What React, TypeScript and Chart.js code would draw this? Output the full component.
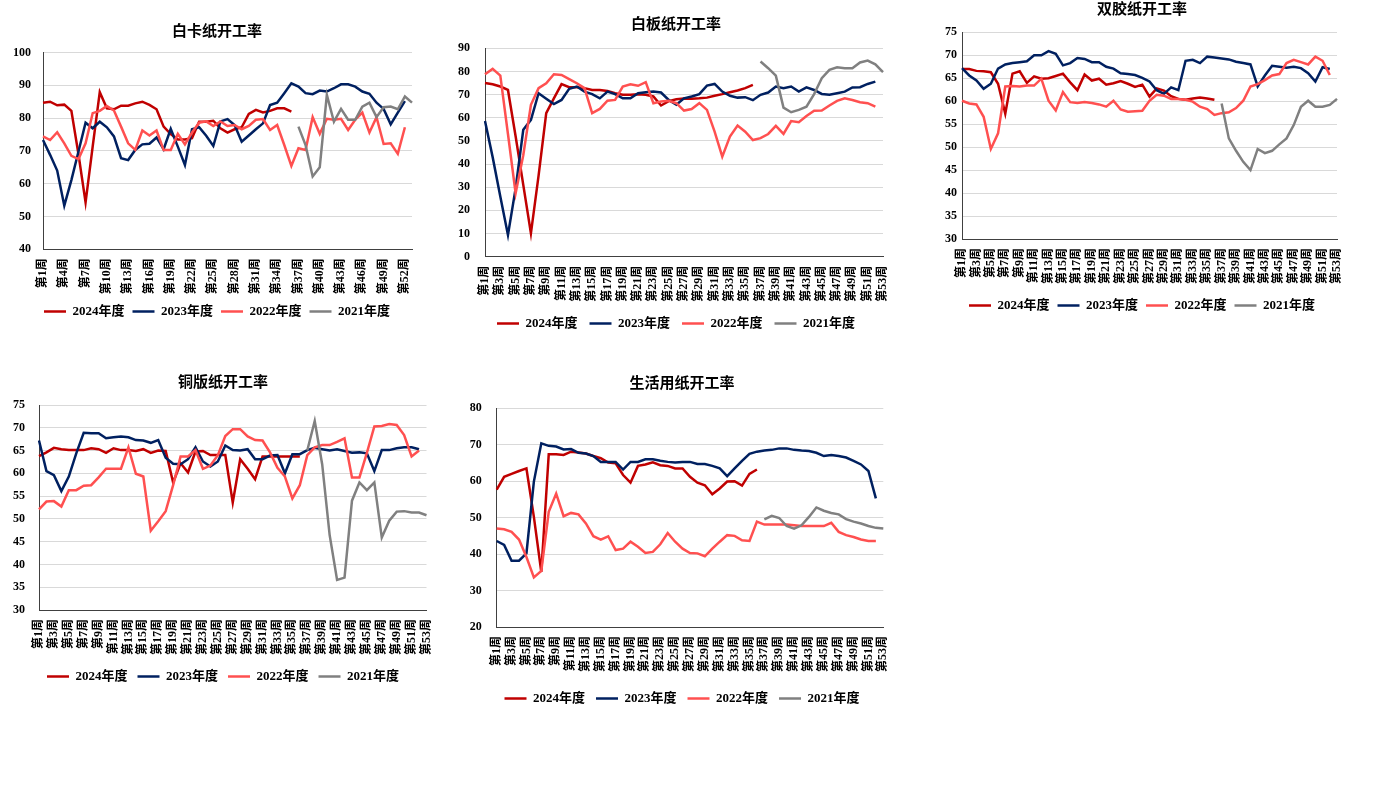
import React, { useEffect, useRef } from "react";
import { Chart, registerables } from "chart.js";

Chart.register(...registerables);

// ---------- categories / series meta ----------
const weekLabels = Array.from({ length: 53 }, (_, i) => `第${i + 1}周`);
const seriesNames = ["2024年度", "2023年度", "2022年度", "2021年度"];
const seriesColors = ["#C00000", "#002060", "#FF5050", "#808080"];
const start2021 = 37; // the 2021 series starts at week 37

// ---------- 白卡纸开工率 ----------
const baika2024 = [84.7, 85.0, 83.9, 84.1, 82.2, 69.0, 54.3, 71.3, 87.9, 83.0, 82.7, 83.8, 83.8, 84.5, 85.0, 84.0, 82.7, 77.4, 75.1, 73.5, 73.5, 73.9, 78.9, 78.9, 79.2, 76.9, 75.6, 76.6, 77.2, 81.3, 82.5, 81.7, 82.2, 83.0, 83.0, 82.0];
const baika2023 = [73.3, 68.8, 64.0, 53.3, 61.1, 69.8, 78.6, 76.9, 78.9, 77.2, 74.4, 67.8, 67.2, 70.3, 72.0, 72.2, 74.1, 70.5, 76.7, 71.3, 65.7, 76.6, 77.2, 74.6, 71.5, 79.0, 79.7, 77.9, 72.8, 74.7, 76.6, 78.4, 84.0, 84.7, 87.6, 90.6, 89.6, 87.6, 87.3, 88.4, 88.1, 89.1, 90.3, 90.3, 89.6, 88.1, 87.4, 84.7, 82.8, 78.1, 81.7, 85.2];
const baika2022 = [74.4, 73.3, 75.7, 72.3, 68.5, 67.5, 72.3, 81.5, 82.2, 83.7, 82.3, 77.4, 72.3, 70.3, 76.2, 74.7, 76.2, 70.3, 70.3, 75.2, 72.0, 75.6, 78.6, 79.0, 77.6, 79.0, 77.6, 77.9, 76.6, 77.6, 79.5, 79.7, 76.4, 77.9, 71.8, 65.4, 70.8, 70.3, 80.3, 75.2, 79.8, 79.5, 79.8, 76.4, 79.5, 81.7, 75.6, 80.3, 72.1, 72.3, 69.1, 77.2];
const baika2021 = [77.4, 71.8, 62.2, 65.0, 87.1, 78.9, 82.8, 79.5, 79.5, 83.5, 84.7, 80.3, 83.3, 83.5, 82.7, 86.6, 84.7];

// ---------- 白板纸开工率 ----------
const baiban2024 = [75.0, 74.5, 73.5, 72.0, 52.0, 31.0, 10.1, 35.0, 62.0, 68.4, 74.5, 73.2, 73.2, 72.8, 72.0, 72.0, 71.6, 70.6, 69.9, 69.9, 70.2, 69.9, 69.2, 65.3, 67.2, 68.0, 68.3, 68.2, 68.4, 68.7, 69.5, 70.2, 71.0, 71.8, 72.8, 74.2];
const baiban2023 = [58.6, 43.0, 26.0, 9.4, 29.5, 54.8, 59.1, 70.6, 68.2, 65.9, 67.7, 72.5, 73.5, 71.3, 70.2, 68.4, 71.3, 70.2, 68.4, 68.4, 70.6, 71.0, 71.3, 70.9, 67.7, 65.6, 68.4, 69.2, 70.2, 73.9, 74.6, 71.3, 69.5, 68.7, 68.9, 67.6, 69.9, 70.9, 73.5, 72.8, 73.5, 71.3, 73.1, 72.0, 70.3, 69.9, 70.6, 71.3, 73.1, 73.2, 74.6, 75.6];
const baiban2022 = [78.8, 81.1, 78.2, 53.0, 27.4, 43.8, 65.6, 72.8, 74.9, 78.8, 78.5, 76.7, 74.9, 72.8, 62.0, 63.8, 67.4, 67.7, 73.5, 74.5, 73.8, 75.4, 66.3, 67.0, 67.3, 66.3, 63.1, 63.8, 66.3, 63.4, 54.0, 43.2, 51.9, 56.6, 54.0, 50.4, 51.2, 53.0, 56.5, 53.0, 58.6, 58.1, 60.8, 63.0, 63.1, 65.3, 67.3, 68.4, 67.7, 66.7, 66.3, 64.8];
const baiban2021 = [84.3, 81.4, 78.2, 64.4, 62.4, 63.4, 64.8, 70.2, 77.1, 80.7, 81.8, 81.4, 81.4, 83.9, 84.7, 83.1, 79.7];

// ---------- 双胶纸开工率 ----------
const shuangjiao2024 = [67.0, 67.0, 66.6, 66.5, 66.3, 63.8, 57.3, 66.0, 66.5, 64.0, 65.4, 64.9, 65.0, 65.5, 66.0, 64.1, 62.4, 65.8, 64.5, 64.9, 63.6, 63.9, 64.4, 63.8, 63.1, 63.6, 61.0, 62.8, 62.3, 61.1, 60.5, 60.3, 60.6, 60.8, 60.6, 60.3];
const shuangjiao2023 = [67.2, 65.6, 64.5, 62.7, 63.8, 67.1, 68.0, 68.3, 68.5, 68.7, 70.0, 70.0, 70.9, 70.3, 67.8, 68.3, 69.4, 69.2, 68.5, 68.5, 67.5, 67.1, 66.1, 65.9, 65.7, 65.1, 64.3, 62.4, 61.6, 63.0, 62.4, 68.8, 69.0, 68.3, 69.7, 69.5, 69.3, 69.1, 68.6, 68.3, 68.0, 63.2, 65.6, 67.7, 67.5, 67.3, 67.5, 67.2, 66.1, 64.3, 67.4, 67.0];
const shuangjiao2022 = [60.1, 59.5, 59.3, 56.6, 49.6, 53.0, 63.2, 63.3, 63.2, 63.4, 63.4, 64.9, 60.1, 58.0, 62.0, 59.8, 59.6, 59.8, 59.6, 59.3, 58.8, 60.1, 58.2, 57.7, 57.8, 57.9, 60.1, 61.4, 61.2, 60.5, 60.5, 60.3, 59.9, 58.8, 58.3, 57.0, 57.4, 57.6, 58.5, 60.1, 63.2, 63.7, 64.6, 65.6, 65.9, 68.3, 69.0, 68.5, 68.0, 69.7, 68.8, 65.7];
const shuangjiao2021 = [59.5, 51.9, 49.2, 46.8, 45.0, 49.6, 48.7, 49.2, 50.6, 51.9, 54.8, 58.8, 60.1, 58.8, 58.8, 59.2, 60.5];

// ---------- 铜版纸开工率 ----------
const tongban2024 = [63.8, 64.6, 65.6, 65.3, 65.1, 65.1, 65.1, 65.5, 65.3, 64.5, 65.5, 65.1, 65.1, 64.9, 65.3, 64.5, 65.0, 64.9, 58.0, 62.2, 60.2, 64.8, 64.9, 64.0, 64.0, 64.0, 53.6, 63.1, 61.0, 58.7, 63.7, 63.7, 63.7, 63.7, 63.7, 63.7];
const tongban2023 = [67.2, 60.5, 59.6, 56.1, 59.3, 64.4, 68.9, 68.8, 68.8, 67.7, 67.9, 68.1, 67.9, 67.3, 67.2, 66.7, 67.3, 63.4, 62.1, 62.0, 63.1, 65.7, 62.6, 61.5, 62.6, 66.1, 65.1, 65.0, 65.3, 63.1, 63.1, 63.9, 64.0, 60.0, 64.2, 64.2, 65.1, 65.6, 65.3, 65.0, 65.3, 64.9, 64.5, 64.6, 64.4, 60.5, 65.1, 65.1, 65.5, 65.7, 65.7, 65.3];
const tongban2022 = [52.1, 53.8, 53.9, 52.7, 56.3, 56.3, 57.3, 57.4, 59.1, 61.0, 61.0, 61.0, 65.7, 59.9, 59.3, 47.4, 49.5, 51.7, 57.4, 63.7, 63.7, 65.1, 61.0, 61.7, 64.0, 68.2, 69.7, 69.7, 68.1, 67.3, 67.2, 64.6, 61.2, 59.3, 54.5, 57.4, 64.0, 65.7, 66.2, 66.2, 66.9, 67.7, 59.1, 59.1, 64.5, 70.3, 70.4, 70.8, 70.6, 68.4, 63.7, 65.0];
const tongban2021 = [65.0, 71.5, 62.0, 46.5, 36.6, 37.1, 54.0, 58.0, 56.3, 58.0, 45.9, 49.6, 51.6, 51.7, 51.4, 51.4, 50.8];

// ---------- 生活用纸开工率 ----------
const shenghuo2024 = [57.7, 61.2, 62.0, 62.8, 63.5, 50.2, 35.1, 67.4, 67.4, 67.2, 68.1, 67.9, 67.6, 66.9, 66.3, 65.1, 64.9, 61.7, 59.6, 64.2, 64.6, 65.2, 64.4, 64.2, 63.5, 63.5, 61.2, 59.6, 58.9, 56.4, 58.0, 59.9, 60.0, 58.8, 62.0, 63.2];
const shenghuo2023 = [43.6, 42.5, 38.2, 38.2, 40.2, 59.9, 70.4, 69.7, 69.5, 68.7, 68.8, 67.8, 67.6, 66.9, 65.3, 65.3, 65.3, 63.2, 65.3, 65.3, 66.0, 66.0, 65.6, 65.3, 65.1, 65.3, 65.3, 64.7, 64.7, 64.2, 63.5, 61.4, 63.5, 65.6, 67.5, 68.1, 68.4, 68.6, 69.0, 69.0, 68.6, 68.4, 68.3, 67.8, 66.9, 67.2, 66.9, 66.5, 65.6, 64.6, 62.8, 55.3];
const shenghuo2022 = [47.0, 46.8, 46.1, 44.0, 39.2, 33.6, 35.4, 51.6, 56.6, 50.4, 51.3, 50.9, 48.4, 44.9, 44.0, 44.9, 41.1, 41.5, 43.4, 42.0, 40.3, 40.6, 42.7, 45.8, 43.4, 41.5, 40.3, 40.2, 39.4, 41.5, 43.4, 45.2, 45.0, 43.8, 43.6, 48.9, 48.1, 48.1, 48.1, 48.1, 47.9, 47.7, 47.7, 47.7, 47.7, 48.6, 46.1, 45.2, 44.7, 44.0, 43.6, 43.6];
const shenghuo2021 = [49.5, 50.5, 49.9, 47.7, 47.0, 47.9, 50.2, 52.8, 51.9, 51.3, 50.9, 49.6, 48.9, 48.4, 47.7, 47.2, 47.0];

// ---------- fonts ----------
const SERIF = "'Liberation Serif', 'Times New Roman', 'Noto Sans CJK SC', serif";
const TITLE_FONT = "'Noto Sans CJK SC', 'Noto Sans', sans-serif";

type Geo = {
  center: number; // title / legend centre x
  left: number; // plot left (week 1)
  right: number; // plot right (week 53)
  top: number; // canvas top
  titleY: number;
  plotTop: number;
  plotBottom: number;
  legendY: number;
  tickPad: number;
  labelSpace: number;
  legendPad: number;
};

type Spec = {
  title: string;
  series: number[][];
  yMin: number;
  yMax: number;
  yStep: number;
  every: number;
  geo: Geo;
};

const panels: Spec[] = [
  {
    title: "白卡纸开工率",
    series: [baika2024, baika2023, baika2022, baika2021],
    yMin: 40, yMax: 100, yStep: 10, every: 3,
    geo: { center: 217, left: 43, right: 412, top: 10, titleY: 30, plotTop: 52.5, plotBottom: 249.3, legendY: 311.7, tickPad: 12, labelSpace: 22, legendPad: 8 },
  },
  {
    title: "白板纸开工率",
    series: [baiban2024, baiban2023, baiban2022, baiban2021],
    yMin: 0, yMax: 90, yStep: 10, every: 2,
    geo: { center: 676, left: 485, right: 883, top: 0, titleY: 23, plotTop: 48.3, plotBottom: 256.7, legendY: 323, tickPad: 15, labelSpace: 16, legendPad: 12 },
  },
  {
    title: "双胶纸开工率",
    series: [shuangjiao2024, shuangjiao2023, shuangjiao2022, shuangjiao2021],
    yMin: 30, yMax: 75, yStep: 5, every: 2,
    geo: { center: 1142, left: 962, right: 1337, top: -2, titleY: 8, plotTop: 32.3, plotBottom: 239, legendY: 305, tickPad: 5, labelSpace: 16, legendPad: 8 },
  },
  {
    title: "铜版纸开工率",
    series: [tongban2024, tongban2023, tongban2022, tongban2021],
    yMin: 30, yMax: 75, yStep: 5, every: 2,
    geo: { center: 223, left: 39, right: 426.5, top: 360, titleY: 381, plotTop: 405, plotBottom: 610, legendY: 676, tickPad: 14, labelSpace: 16, legendPad: 10 },
  },
  {
    title: "生活用纸开工率",
    series: [shenghuo2024, shenghuo2023, shenghuo2022, shenghuo2021],
    yMin: 20, yMax: 80, yStep: 10, every: 2,
    geo: { center: 682, left: 496.7, right: 883.3, top: 360, titleY: 382, plotTop: 408.3, plotBottom: 627, legendY: 698, tickPad: 15, labelSpace: 16, legendPad: 11 },
  },
];

const LEGEND_FS = 13;
const TITLE_FS = 15;

function Panel({ spec }: { spec: Spec }) {
  const ref = useRef<HTMLCanvasElement | null>(null);
  const g = spec.geo;
  const Lc = Math.floor(g.left - g.tickPad - g.labelSpace);
  const W = Math.round(2 * (g.center - Lc));
  const yW = g.left - Lc;
  const rW = Math.max(Lc + W - g.right, 0);
  const lp = g.legendPad;
  const legendH = lp + LEGEND_FS + 10;
  const H = Math.round(g.legendY - lp - LEGEND_FS / 2 + legendH - g.top);
  const legendTop = g.top + H - legendH;
  const xH = legendTop - g.plotBottom;
  const pt = g.titleY - TITLE_FS * 0.6 - g.top;
  const pb = g.plotTop - g.top - pt - TITLE_FS * 1.2;

  useEffect(() => {
    if (!ref.current) return;
    const padded2021 = (new Array(start2021 - 1).fill(null) as (number | null)[]).concat(spec.series[3]);
    const seriesData: (number | null)[][] = [spec.series[0], spec.series[1], spec.series[2], padded2021];
    const datasets = seriesData.map((d, i) => ({
      label: seriesNames[i],
      data: d,
      yAxisID: "y",
      borderColor: seriesColors[i],
      backgroundColor: seriesColors[i],
      borderWidth: 2.5,
      pointRadius: 0,
      pointHoverRadius: 0,
      tension: 0,
      fill: false,
      order: 3 - i,
    }));
    const chart = new Chart(ref.current, {
      type: "line",
      data: { labels: weekLabels, datasets },
      options: {
        responsive: false,
        animation: false,
        devicePixelRatio: 1,
        layout: { padding: 0 },
        plugins: {
          tooltip: { enabled: false },
          title: {
            display: true,
            text: spec.title,
            color: "#000",
            font: { family: TITLE_FONT, size: TITLE_FS, weight: "bold", lineHeight: 1.2 },
            padding: { top: pt, bottom: pb },
          },
          legend: {
            display: true,
            position: "bottom",
            labels: {
              usePointStyle: true,
              pointStyle: "line",
              pointStyleWidth: 22,
              color: "#000",
              padding: lp,
              font: { family: SERIF, size: LEGEND_FS, weight: "bold" },
              sort: (a: any, b: any) => a.datasetIndex - b.datasetIndex,
            },
          },
        },
        scales: {
          x: {
            type: "category",
            offset: false,
            grid: { display: false, drawTicks: false },
            border: { display: true, color: "#404040", width: 1 },
            ticks: {
              autoSkip: false,
              maxRotation: 90,
              minRotation: 90,
              padding: 9,
              color: "#000",
              font: { family: SERIF, size: 12, weight: "bold" },
              callback: (_v: any, idx: number) => (idx % spec.every === 0 ? weekLabels[idx] : null),
            },
            afterFit: (s: any) => {
              s.height = xH;
              s.paddingLeft = 0;
              s.paddingRight = 0;
            },
          },
          y: {
            position: "left",
            min: spec.yMin,
            max: spec.yMax,
            grid: { color: "#d9d9d9", lineWidth: 1, drawTicks: false },
            border: { display: true, color: "#404040", width: 1 },
            ticks: {
              stepSize: spec.yStep,
              padding: g.tickPad,
              color: "#000",
              font: { family: SERIF, size: 12, weight: "bold" },
            },
            afterFit: (s: any) => {
              s.width = yW;
            },
          },
          yRight: {
            type: "linear",
            position: "right",
            display: true,
            min: 0,
            max: 1,
            grid: { display: false, drawTicks: false },
            border: { display: false },
            ticks: { display: false },
            afterFit: (s: any) => {
              s.width = rW;
              s.paddingTop = 0;
              s.paddingBottom = 0;
            },
          },
        },
      } as any,
    });
    return () => chart.destroy();
  }, []);

  return (
    <canvas
      ref={ref}
      width={W}
      height={H}
      style={{ position: "absolute", left: Lc, top: g.top, width: W, height: H }}
    />
  );
}

export default function App() {
  return (
    <div
      style={{
        position: "fixed",
        left: 0,
        top: 0,
        width: 1396,
        height: 788,
        background: "#ffffff",
        overflow: "hidden",
      }}
    >
      {panels.map((p) => (
        <Panel key={p.title} spec={p} />
      ))}
    </div>
  );
}
